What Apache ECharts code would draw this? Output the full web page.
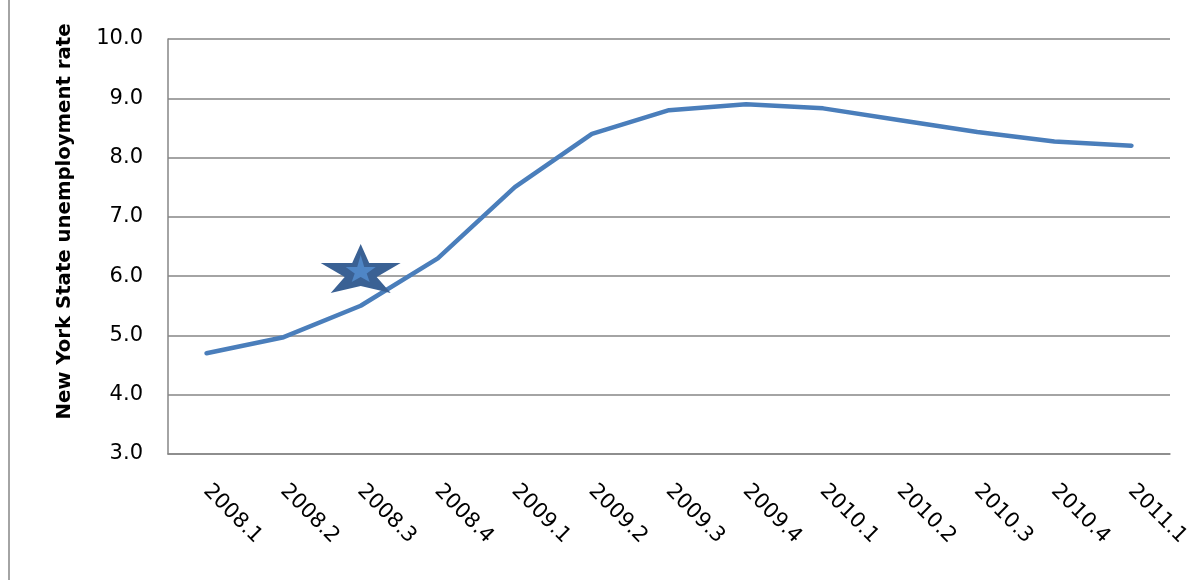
<!DOCTYPE html>
<html>
<head>
<meta charset="utf-8">
<script src="https://cdn.jsdelivr.net/npm/echarts@6/dist/echarts.min.js"></script>
<style>
  html, body { margin: 0; padding: 0; background: #fff; }
  #chart { width: 1204px; height: 580px; }
</style>
</head>
<body>
<div id="chart"></div>
<script>
// Quarterly New York State unemployment rate (%)
const quarters = ['2008.1', '2008.2', '2008.3', '2008.4', '2009.1', '2009.2', '2009.3',
                  '2009.4', '2010.1', '2010.2', '2010.3', '2010.4', '2011.1'];
const rates = [4.7, 4.97, 5.5, 6.3, 7.5, 8.4, 8.8, 8.9, 8.83, 8.63, 8.43, 8.27, 8.2];

// Highlighted quarter marked with a star
const starQuarter = '2008.3';
const starValue = 6.13;

// Y axis range
const yMin = 3, yMax = 10, yStep = 1;

// Wide five-pointed star (outer body) and its lighter centre
const starOuter = 'path://M400,0L485,190L800,190L560,330L700,490L400,420L100,490L240,330L0,190L315,190Z';
const starInner = 'path://M150,0L185,120L300,120L210,185L240,270L150,220L60,270L90,185L0,120L115,120Z';

const chart = echarts.init(document.getElementById('chart'), null, { renderer: 'canvas' });
const fontFam = '"DejaVu Sans", sans-serif';

chart.setOption({
  animation: false,
  backgroundColor: '#ffffff',
  grid: { left: 168, right: 34, top: 39, bottom: 126 },
  xAxis: {
    type: 'category',
    data: quarters,
    boundaryGap: true,
    axisLine: { show: true, lineStyle: { color: '#868686', width: 1.5 } },
    axisTick: { show: false },
    axisLabel: {
      rotate: -45,
      margin: 34,
      color: '#000',
      fontSize: 21,
      fontFamily: fontFam
    },
    splitLine: { show: false }
  },
  yAxis: {
    type: 'value',
    min: yMin,
    max: yMax,
    interval: yStep,
    name: 'New York State unemployment rate',
    nameLocation: 'middle',
    nameGap: 93,
    nameTextStyle: {
      color: '#000', fontSize: 19.7, fontWeight: 'bold', fontFamily: fontFam,
      padding: [0, 0, 0, 50]
    },
    axisLine: { show: true, lineStyle: { color: '#868686', width: 1.5 } },
    axisTick: { show: false },
    axisLabel: {
      color: '#000',
      fontSize: 21,
      margin: 25,
      fontFamily: fontFam,
      formatter: v => v.toFixed(1)
    },
    splitLine: { show: true, lineStyle: { color: '#868686', width: 1.5 } }
  },
  series: [
    {
      type: 'line',
      data: rates,
      symbol: 'none',
      lineStyle: { color: '#4A7EBB', width: 4.5, cap: 'round', join: 'round' },
      z: 2
    },
    {
      type: 'scatter',
      data: [[starQuarter, starValue]],
      symbol: starOuter,
      symbolSize: [80, 49],
      itemStyle: { color: '#3A6194', opacity: 1 },
      z: 3
    },
    {
      type: 'scatter',
      data: [[starQuarter, starValue]],
      symbol: starInner,
      symbolSize: [30, 27],
      itemStyle: { color: '#4F86C6', opacity: 1 },
      z: 4
    }
  ],
  graphic: [
    {
      type: 'line',
      shape: { x1: 9, y1: 0, x2: 9, y2: 580 },
      style: { stroke: '#868686', lineWidth: 1.5 }
    }
  ]
});
</script>
</body>
</html>
